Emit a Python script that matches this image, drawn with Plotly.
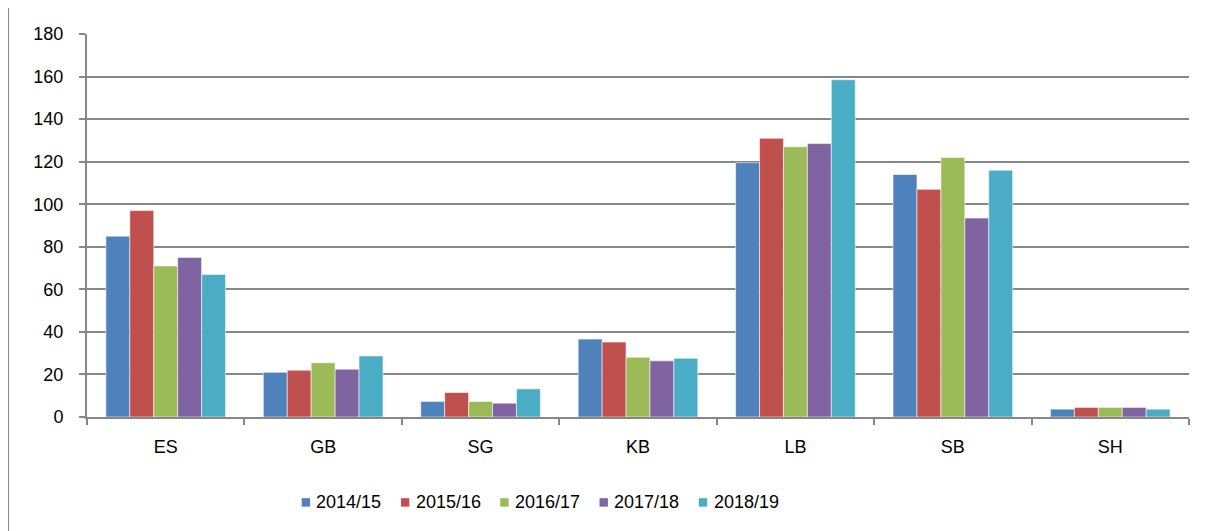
import plotly.graph_objects as go

categories = ["ES", "GB", "SG", "KB", "LB", "SB", "SH"]
seasons = ["2014/15", "2015/16", "2016/17", "2017/18", "2018/19"]
v_2014_15 = [85, 21, 7.3, 36.6, 119.5, 114, 3.7]
v_2015_16 = [97, 22, 11.5, 35.2, 131, 107, 4.5]
v_2016_17 = [71, 25.5, 7.3, 28.1, 127, 122, 4.5]
v_2017_18 = [75, 22.5, 6.5, 26.4, 128.5, 93.5, 4.5]
v_2018_19 = [67, 28.7, 13.2, 27.6, 158.5, 116, 3.7]
series = [v_2014_15, v_2015_16, v_2016_17, v_2017_18, v_2018_19]
colors = ["#4F81BD", "#C0504D", "#9BBB59", "#8064A2", "#4BACC6"]
y_ticks = list(range(0, 181, 20))

fig = go.Figure()
for name, vals, col in zip(seasons, series, colors):
    fig.add_trace(go.Bar(
        x=categories, y=vals, name=name, showlegend=False,
        marker=dict(color=col, line=dict(color="rgba(255,255,255,0.7)", width=0.8)),
    ))

gray = "#878787"
font_family = "Liberation Sans, Arial, sans-serif"

# manual legend (square swatch + label), laid out in paper coordinates
shapes = [
    dict(type="line", xref="paper", yref="paper", x0=-0.0717, x1=1.1, y0=1.0768, y1=1.0768,
         line=dict(color=gray, width=2)),
    dict(type="line", xref="paper", yref="paper", x0=-0.0717, x1=-0.0717, y0=1.0768, y1=-0.4,
         line=dict(color=gray, width=2)),
]
annotations = []
leg_x0 = 0.1948
leg_pitch = 0.0901
sq_w = 0.0076
for i, (name, col) in enumerate(zip(seasons, colors)):
    x0 = leg_x0 + i * leg_pitch
    shapes.append(dict(type="rect", xref="paper", yref="paper", x0=x0, x1=x0 + sq_w,
                       y0=-0.234, y1=-0.212, fillcolor=col, line=dict(width=0)))
    annotations.append(dict(xref="paper", yref="paper", x=x0 + sq_w + 0.004, y=-0.222,
                            xanchor="left", yanchor="middle", text=name, showarrow=False,
                            font=dict(size=18, family=font_family, color="black")))

fig.update_layout(
    width=1209, height=523,
    margin=dict(l=79, r=28, t=26, b=114, autoexpand=False),
    paper_bgcolor="white", plot_bgcolor="white",
    barmode="group", bargap=0.24, bargroupgap=0,
    showlegend=False,
    font=dict(family=font_family, size=18, color="black"),
    xaxis=dict(showline=True, linecolor=gray, linewidth=2, ticks="outside",
               tickson="boundaries", ticklen=6, tickcolor=gray, tickwidth=2,
               showgrid=False, ticklabelstandoff=12),
    yaxis=dict(range=[0, 180], tickvals=y_ticks, showline=True, linecolor=gray,
               linewidth=2, ticks="outside", ticklen=6, tickcolor=gray, tickwidth=2,
               showgrid=True, gridcolor=gray, gridwidth=2, zeroline=False,
               ticklabelstandoff=12),
    shapes=shapes,
    annotations=annotations,
)

fig.write_html("out.html")
